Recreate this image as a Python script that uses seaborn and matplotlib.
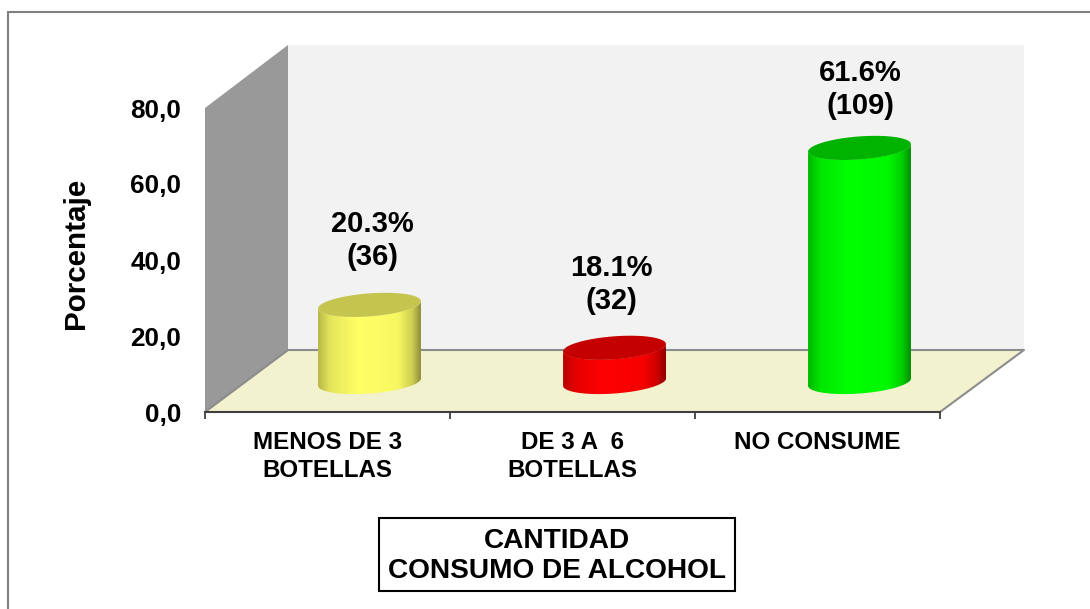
import numpy as np
import seaborn as sns
import matplotlib.pyplot as plt
from matplotlib.colors import LinearSegmentedColormap, to_rgb
from matplotlib.patches import Polygon, Rectangle
from matplotlib.path import Path

categorias = ['MENOS DE 3\nBOTELLAS', 'DE 3 A  6\nBOTELLAS', 'NO CONSUME']
porcentajes = [20.3, 18.1, 61.6]
casos = [36, 32, 109]
# alturas tal como se dibujan en el original (la barra roja sale mas baja que su etiqueta)
alturas = [20.3, 9.0, 61.6]
colores = ['#ffff66', '#ff0000', '#00ff00']
ticks_y = [0, 20, 40, 60, 80]
ticks_y_txt = ['0,0', '20,0', '40,0', '60,0', '80,0']

W, H = 1090, 609
FUENTE = 'Liberation Sans'

sns.set_style('white')
plt.rcParams['font.family'] = [FUENTE, 'DejaVu Sans']
plt.rcParams['font.weight'] = 'bold'
plt.rcParams['text.color'] = 'black'
plt.rcParams['axes.labelcolor'] = 'black'
plt.rcParams['xtick.color'] = 'black'
plt.rcParams['ytick.color'] = 'black'


def caja(x0, y0, x1, y1):
    # pixeles de la imagen -> rect de add_axes
    return [x0 / W, 1 - y1 / H, (x1 - x0) / W, (y1 - y0) / H]


fig = plt.figure(figsize=(W / 100, H / 100), dpi=100, facecolor='white')

# fondo en pixeles: marco, paredes y piso
bg = fig.add_axes([0, 0, 1, 1], zorder=0)
bg.set_xlim(0, W)
bg.set_ylim(H, 0)
bg.axis('off')
bg.add_patch(Rectangle((8, 12), 1200, 700, fc='white', ec='#808080', lw=1.5))
bg.add_patch(Polygon([(288, 45), (1024, 45), (1024, 350), (288, 350)], fc='#f2f2f2', ec='none'))
bg.add_patch(Polygon([(205, 108), (288, 45), (288, 350), (205, 412)], fc='#999999', ec='none'))
bg.add_patch(Polygon([(205, 412), (288, 350), (1024, 350), (940, 412)], fc='#f2f2cf', ec='none'))
bg.plot([205, 288, 1024, 940], [412, 350, 350, 412], color='#8c8c8c', lw=1.5)

# ejes principales: escala 0-80 y categorias
ax = fig.add_axes(caja(205, 108, 940, 412), zorder=1)
ax.patch.set_alpha(0)
ax.set_xlim(-0.5, 2.5)
ax.set_ylim(0, 80)
sns.despine(ax=ax, left=True, top=True, right=True)
ax.spines['bottom'].set_color('#404040')
ax.spines['bottom'].set_linewidth(1.5)
ax.set_yticks(ticks_y, ticks_y_txt, fontsize=18.8, fontweight='bold')
ax.tick_params(axis='y', length=0, pad=17)
n = len(categorias)
ax.set_xticks(np.arange(n + 1) - 0.5, [''] * (n + 1))
ax.tick_params(axis='x', which='major', bottom=True, length=5, width=1.2, color='#303030')
ax.set_xticks(np.arange(n), categorias, minor=True, fontsize=17.4, fontweight='bold',
              linespacing=1.29)
ax.tick_params(axis='x', which='minor', length=0, pad=13.6)
ax.set_ylabel('Porcentaje', fontsize=21.3, fontweight='bold', labelpad=0)
ax.yaxis.set_label_coords((90 - 205) / 735, (412 - 253) / 304)

# barras desplazadas sobre el piso (profundidad 3D)
px_y = 304 / 80
px_x = 735 / 3
base_px = 30
over = fig.add_axes(caja(247, 78, 982, 412), zorder=2)
over.patch.set_alpha(0)
sns.barplot(x=categorias, y=alturas, hue=categorias, palette=colores, legend=False,
            width=0.42, saturation=1, ax=over)
over.set_xlim(-0.5, 2.5)
over.set_ylim(-base_px / px_y, 80)
over.axis('off')

paradas = [0, 0.12, 0.4, 0.78, 0.92, 1]
brillo = [0.72, 0.9, 1.0, 0.97, 0.8, 0.55]
tapa_f = [0.77, 0.77, 0.7]
t_ab = np.linspace(np.pi, 2 * np.pi, 60)
t_todo = np.linspace(0, 2 * np.pi, 120)

for barra, color, f_tapa in zip(over.patches, colores, tapa_f):
    xc = barra.get_x() + barra.get_width() / 2
    a = barra.get_width() / 2
    alto = barra.get_height()
    # elipse inclinada: 3.7 px de sesgo y 11.5 px de semieje, en unidades de datos
    sesgo, b = 3.7 / px_y, 11.5 / px_y
    xa = xc + a * np.cos(t_ab)
    ya = sesgo * np.cos(t_ab) + b * np.sin(t_ab)
    lado = np.column_stack([np.r_[xa, xa[::-1]], np.r_[ya, ya[::-1] + alto]])
    camino = Path(np.vstack([lado, lado[:1]]), closed=True)
    barra.set_clip_path(camino, over.transData)

    rgb = np.array(to_rgb(color))
    cmap = LinearSegmentedColormap.from_list(
        'cil', [(p, tuple(rgb * f)) for p, f in zip(paradas, brillo)])
    im = over.imshow(np.linspace(0, 1, 256)[None, :], cmap=cmap, aspect='auto',
                     extent=(xc - a, xc + a, -b * 1.2, alto + b * 1.2),
                     interpolation='bilinear', zorder=3)
    im.set_clip_path(camino, over.transData)

    tapa = np.column_stack([xc + a * np.cos(t_todo),
                            alto + sesgo * np.cos(t_todo) + b * np.sin(t_todo)])
    over.add_patch(Polygon(tapa, fc=tuple(rgb * f_tapa), ec='none', zorder=4))
over.set_xlim(-0.5, 2.5)
over.set_ylim(-base_px / px_y, 80)

# etiquetas de datos
etiq_x = [372, 611, 860]
etiq_y = [240.5, 284.5, 89.5]
for x, y, p, c in zip(etiq_x, etiq_y, porcentajes, casos):
    bg.text(x, y, f'{p}%\n({c})', ha='center', va='center', fontsize=21,
            fontweight='bold', color='black', linespacing=1.2)

# titulo del eje en recuadro
bg.add_patch(Rectangle((379, 518), 356, 73, fc='white', ec='black', lw=1.5))
bg.text(557, 556, 'CANTIDAD\nCONSUMO DE ALCOHOL', ha='center', va='center', fontsize=20.2,
        fontweight='bold', color='black', linespacing=1.18)

fig.savefig('out.png', dpi=100)
